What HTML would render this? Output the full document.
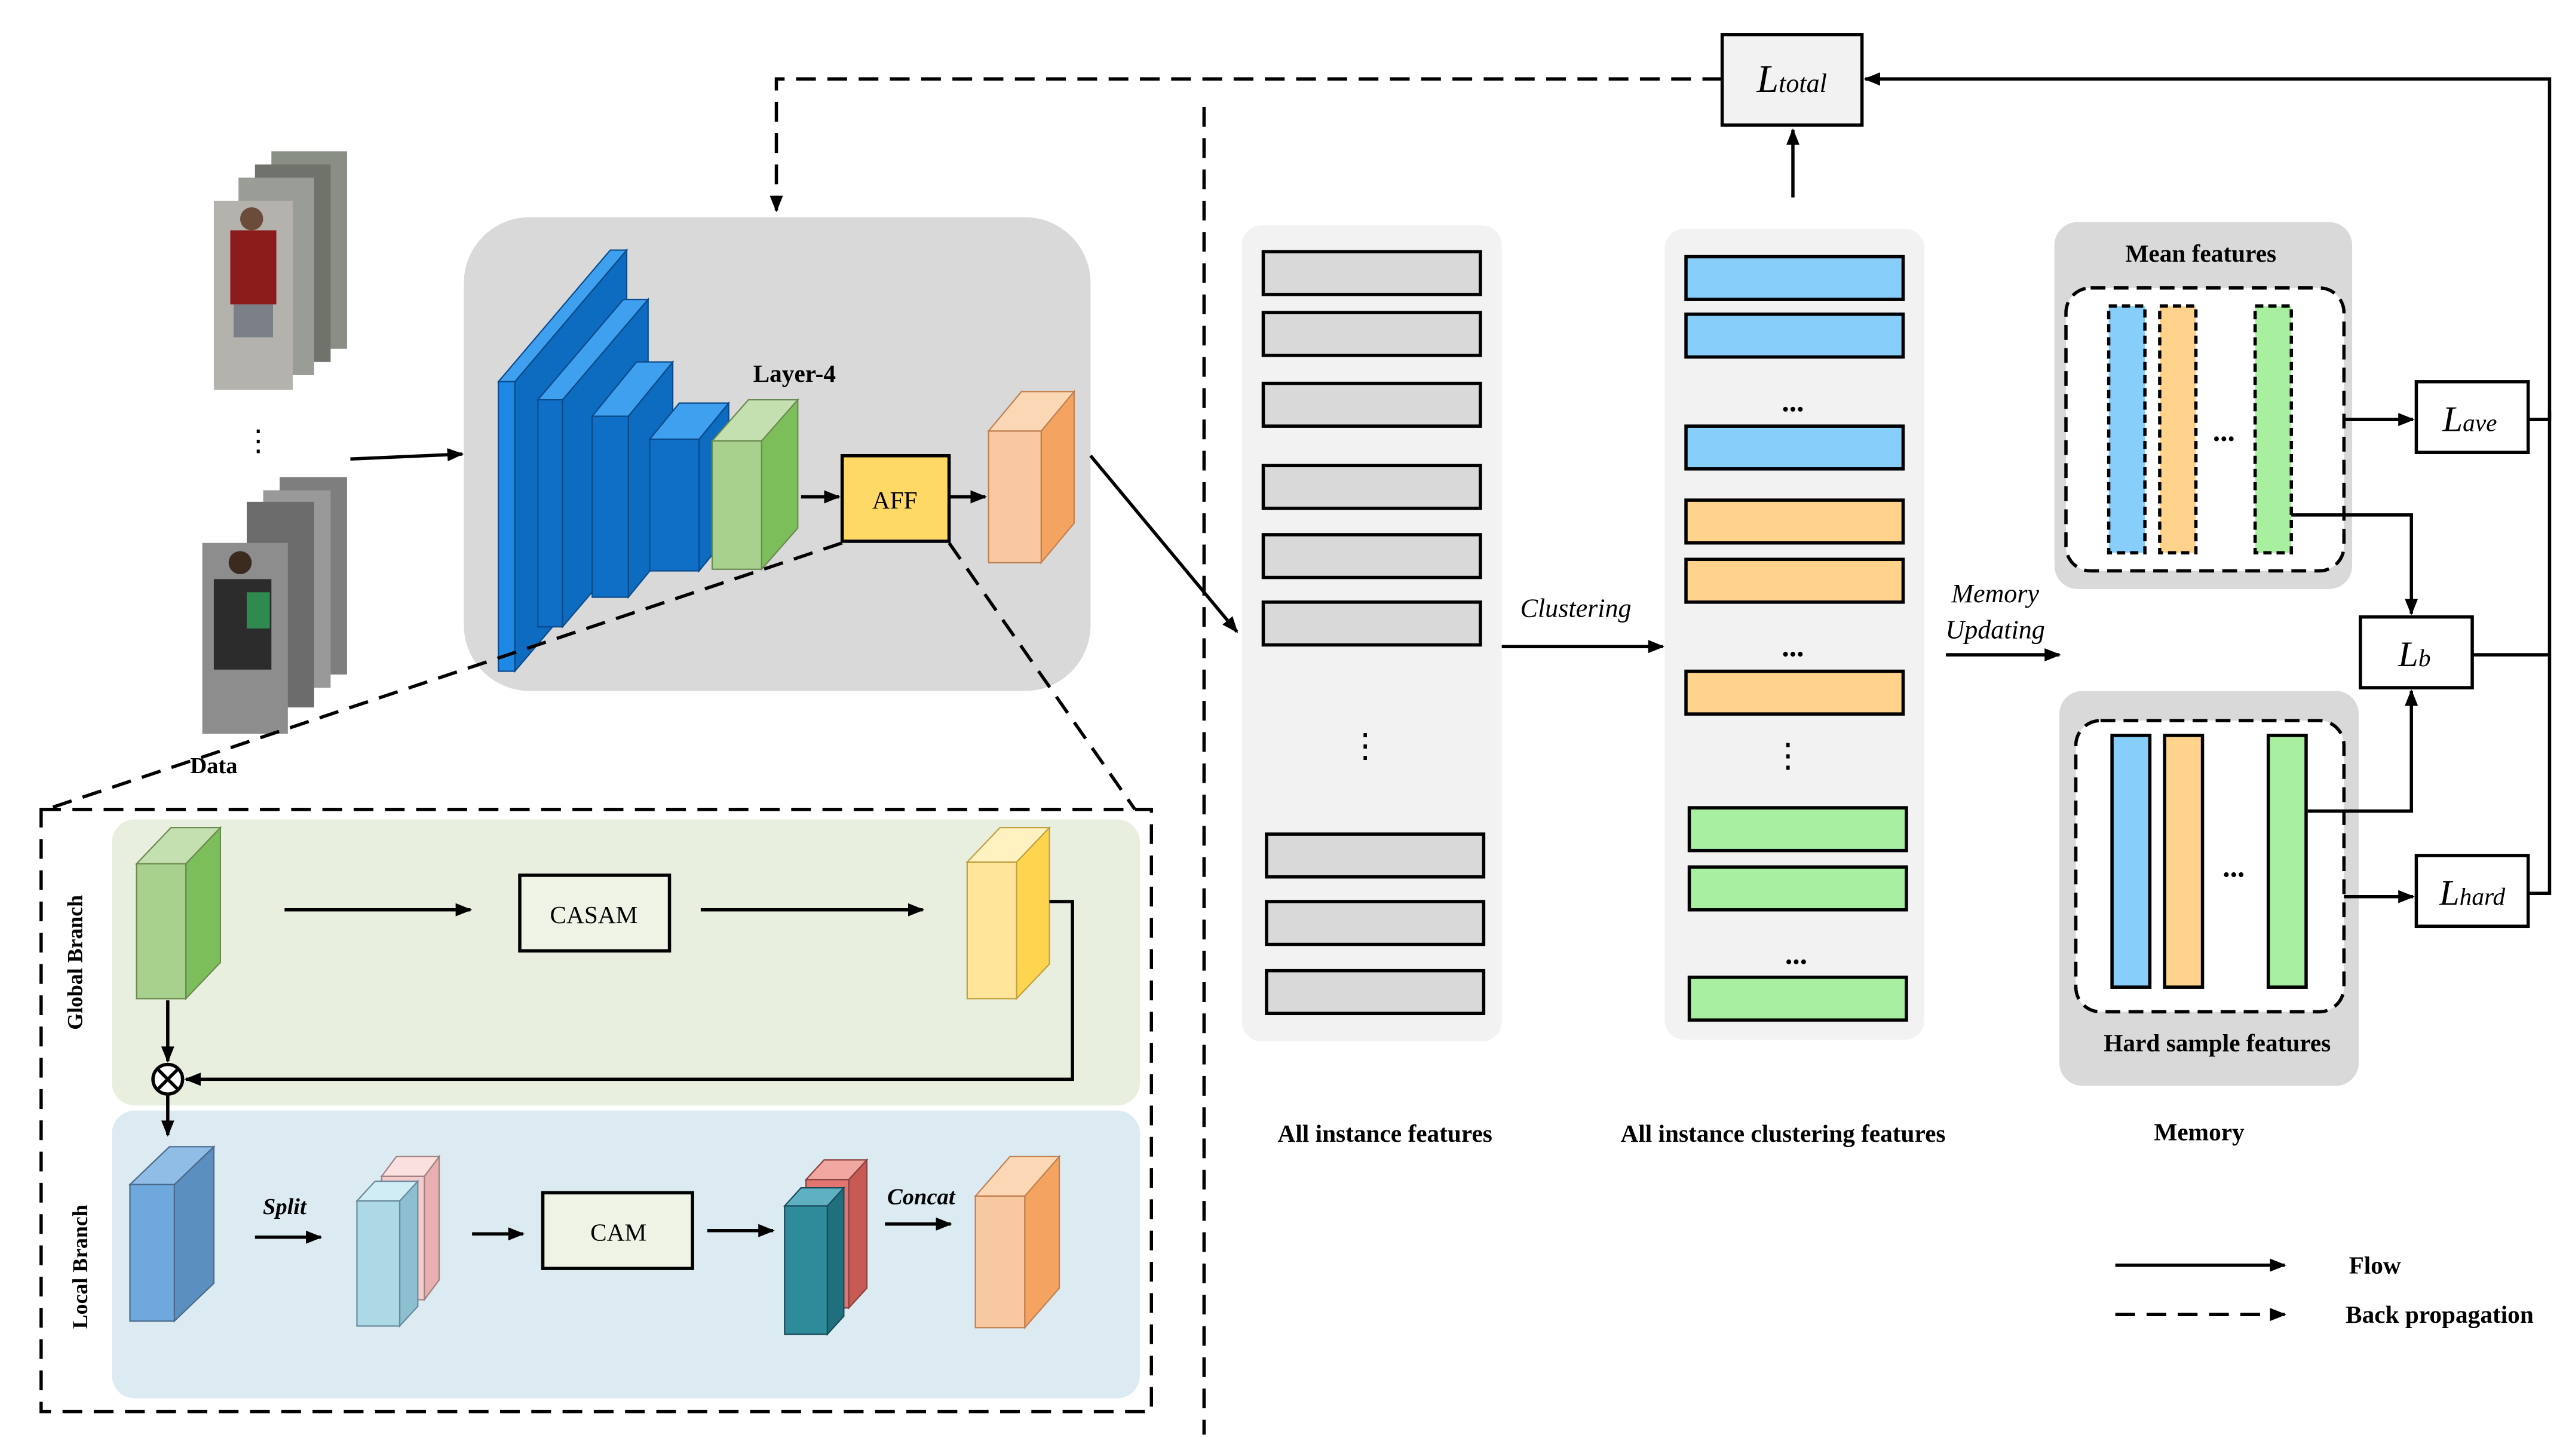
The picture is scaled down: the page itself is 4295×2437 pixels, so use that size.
<!DOCTYPE html>
<html><head><meta charset="utf-8"><style>
html,body{margin:0;padding:0;background:#fff}
svg{display:block}
text{font-family:"Liberation Serif",serif;fill:#000}
.b{font-weight:bold}
</style></head><body>
<svg width="4295" height="2437" viewBox="0 0 1560 885" preserveAspectRatio="none" xmlns="http://www.w3.org/2000/svg">
<defs>
<marker id="ah" markerWidth="10" markerHeight="10" refX="9" refY="5" orient="auto" markerUnits="userSpaceOnUse"><path d="M0,1 L10,5 L0,9 z" fill="#000"/></marker>
</defs>
<rect width="1560" height="885" fill="#fff"/>

<!-- top back-propagation dashed -->
<polyline points="1047,48 472,48 472,128" fill="none" stroke="#000" stroke-width="2" stroke-dasharray="12,7" marker-end="url(#ah)"/>
<line x1="732" y1="65" x2="732" y2="872" stroke="#000" stroke-width="2" stroke-dasharray="12,7"/>

<!-- Ltotal -->
<rect x="1047" y="21" width="85" height="55" fill="#f2f2f2" stroke="#000" stroke-width="2"/>
<text x="1068" y="56" font-size="24" font-style="italic">L<tspan font-size="16" dy="0">total</tspan></text>
<line x1="1090" y1="120" x2="1090" y2="79" stroke="#000" stroke-width="2" marker-end="url(#ah)"/>
<polyline points="1537,255 1550,255 1550,48 1134,48" fill="none" stroke="#000" stroke-width="2" marker-end="url(#ah)"/>
<polyline points="1503,398 1550,398" fill="none" stroke="#000" stroke-width="2"/>
<polyline points="1537,543 1550,543 1550,250" fill="none" stroke="#000" stroke-width="2"/>

<!-- photos -->
<g>
<rect x="165" y="92" width="46" height="120" fill="#8a8f86"/>
<rect x="155" y="100" width="46" height="120" fill="#6f736c"/>
<rect x="145" y="108" width="46" height="120" fill="#9a9d95"/>
<rect x="130" y="122" width="48" height="115" fill="#b4b2ac"/>
<rect x="140" y="140" width="28" height="45" fill="#8b1a1a"/>
<rect x="142" y="185" width="24" height="20" fill="#7a7f88"/>
<circle cx="153" cy="133" r="7" fill="#6b4b3a"/>
<rect x="170" y="290" width="41" height="120" fill="#7e7e7e"/>
<rect x="160" y="298" width="41" height="120" fill="#999"/>
<rect x="150" y="305" width="41" height="125" fill="#6c6c6c"/>
<rect x="123" y="330" width="52" height="116" fill="#8d8d8d"/>
<rect x="130" y="352" width="35" height="55" fill="#2c2c2c"/>
<rect x="150" y="360" width="14" height="22" fill="#2f8a4f"/>
<circle cx="146" cy="342" r="7" fill="#3a2a20"/>
<text x="157" y="274" font-size="18" text-anchor="middle">⋮</text>
</g>
<line x1="213" y1="279" x2="281" y2="276" stroke="#000" stroke-width="2" marker-end="url(#ah)"/>
<text x="130" y="470" font-size="14" class="b" text-anchor="middle">Data</text>

<!-- backbone -->
<rect x="282" y="132" width="381" height="288" rx="40" fill="#d9d9d9"/>
<!-- block helper: front, top, side -->
<g stroke="#0a4a8a" stroke-width="0.8">
<polygon points="313,232 381,152 381,328 313,408" fill="#0d6bc0"/>
<polygon points="303,232 371,152 381,152 313,232" fill="#3fa0f0"/>
<rect x="303" y="232" width="10" height="176" fill="#1e88e5"/>

<polygon points="342,243 394,182 394,320 342,381" fill="#0d6bc0"/>
<polygon points="327,243 379,182 394,182 342,243" fill="#3fa0f0"/>
<rect x="327" y="243" width="15" height="138" fill="#0f6fc6"/>

<polygon points="382,253 409,220 409,330 382,363" fill="#0d6bc0"/>
<polygon points="360,253 387,220 409,220 382,253" fill="#3fa0f0"/>
<rect x="360" y="253" width="22" height="110" fill="#0f6fc6"/>

<polygon points="425,267 443,245 443,325 425,347" fill="#0d6bc0"/>
<polygon points="395,267 413,245 443,245 425,267" fill="#3fa0f0"/>
<rect x="395" y="267" width="30" height="80" fill="#0f6fc6"/>
</g>
<g stroke="#6a8a50" stroke-width="0.8">
<polygon points="463,268 485,243 485,321 463,346" fill="#7cbf5a"/>
<polygon points="433,268 455,243 485,243 463,268" fill="#c5e0b0"/>
<rect x="433" y="268" width="30" height="78" fill="#a9d18e"/>
</g>
<text x="483" y="232" font-size="15" class="b" text-anchor="middle">Layer-4</text>
<line x1="487" y1="302" x2="510" y2="302" stroke="#000" stroke-width="2" marker-end="url(#ah)"/>
<rect x="512" y="277" width="65" height="52" fill="#ffd966" stroke="#000" stroke-width="2"/>
<text x="544" y="309" font-size="15" text-anchor="middle">AFF</text>
<line x1="577" y1="302" x2="599" y2="302" stroke="#000" stroke-width="2" marker-end="url(#ah)"/>
<g stroke="#c08050" stroke-width="0.8">
<polygon points="633,262 653,238 653,318 633,342" fill="#f4a460"/>
<polygon points="601,262 621,238 653,238 633,262" fill="#fbd7b5"/>
<rect x="601" y="262" width="32" height="80" fill="#f8c9a0"/>
</g>
<line x1="663" y1="277" x2="752" y2="384" stroke="#000" stroke-width="2" marker-end="url(#ah)"/>

<!-- zoom dashed lines -->
<line x1="512" y1="330" x2="28" y2="492" stroke="#000" stroke-width="2" stroke-dasharray="12,7"/>
<line x1="577" y1="330" x2="690" y2="492" stroke="#000" stroke-width="2" stroke-dasharray="12,7"/>
<rect x="25" y="492" width="675" height="366" fill="none" stroke="#000" stroke-width="2" stroke-dasharray="12,7"/>

<!-- global branch -->
<rect x="68" y="498" width="625" height="174" rx="14" fill="#e9efdf"/>
<text transform="translate(50,585) rotate(-90)" font-size="13" class="b" text-anchor="middle">Global Branch</text>
<g stroke="#6a8a50" stroke-width="0.8">
<polygon points="113,525 134,503 134,585 113,607" fill="#7cbf5a"/>
<polygon points="83,525 104,503 134,503 113,525" fill="#c5e0b0"/>
<rect x="83" y="525" width="30" height="82" fill="#a9d18e"/>
</g>
<line x1="173" y1="553" x2="286" y2="553" stroke="#000" stroke-width="2" marker-end="url(#ah)"/>
<rect x="316" y="532" width="91" height="46" fill="#eef3e6" stroke="#000" stroke-width="2"/>
<text x="361" y="561" font-size="15" text-anchor="middle">CASAM</text>
<line x1="426" y1="553" x2="561" y2="553" stroke="#000" stroke-width="2" marker-end="url(#ah)"/>
<g stroke="#c0a040" stroke-width="0.8">
<polygon points="618,524 638,503 638,586 618,607" fill="#ffd54f"/>
<polygon points="588,524 608,503 638,503 618,524" fill="#fff2c0"/>
<rect x="588" y="524" width="30" height="83" fill="#ffe599"/>
</g>
<polyline points="638,548 652,548 652,656 113,656" fill="none" stroke="#000" stroke-width="2" marker-end="url(#ah)"/>
<line x1="102" y1="608" x2="102" y2="645" stroke="#000" stroke-width="2" marker-end="url(#ah)"/>
<circle cx="102" cy="656" r="9" fill="#fff" stroke="#000" stroke-width="2"/>
<line x1="96" y1="650" x2="108" y2="662" stroke="#000" stroke-width="2"/>
<line x1="108" y1="650" x2="96" y2="662" stroke="#000" stroke-width="2"/>

<!-- local branch -->
<rect x="68" y="675" width="625" height="175" rx="14" fill="#dcebf1"/>
<line x1="102" y1="666" x2="102" y2="690" stroke="#000" stroke-width="2" marker-end="url(#ah)"/>
<text transform="translate(53,770) rotate(-90)" font-size="13" class="b" text-anchor="middle">Local Branch</text>
<g stroke="#4a6a8a" stroke-width="0.8">
<polygon points="106,720 130,697 130,780 106,803" fill="#5b8fbf"/>
<polygon points="79,720 103,697 130,697 106,720" fill="#8fbde6"/>
<rect x="79" y="720" width="27" height="83" fill="#6fa8dc"/>
</g>
<text x="173" y="738" font-size="14" class="b" font-style="italic" text-anchor="middle">Split</text>
<line x1="155" y1="752" x2="195" y2="752" stroke="#000" stroke-width="2" marker-end="url(#ah)"/>
<g stroke="#a08080" stroke-width="0.8">
<polygon points="258,715 267,703 267,778 258,790" fill="#e8b0b0"/>
<polygon points="232,715 241,703 267,703 258,715" fill="#fbe0e0"/>
<rect x="232" y="715" width="26" height="75" fill="#f4cccc"/>
</g>
<g stroke="#6a8a9a" stroke-width="0.8">
<polygon points="243,730 254,718 254,794 243,806" fill="#8cc0d0"/>
<polygon points="217,730 228,718 254,718 243,730" fill="#d0ecf4"/>
<rect x="217" y="730" width="26" height="76" fill="#add8e6"/>
</g>
<line x1="287" y1="750" x2="318" y2="750" stroke="#000" stroke-width="2" marker-end="url(#ah)"/>
<rect x="330" y="725" width="91" height="46" fill="#eef3e6" stroke="#000" stroke-width="2"/>
<text x="376" y="754" font-size="15" text-anchor="middle">CAM</text>
<line x1="430" y1="748" x2="470" y2="748" stroke="#000" stroke-width="2" marker-end="url(#ah)"/>
<g stroke="#8a4040" stroke-width="0.8">
<polygon points="516,717 527,705 527,783 516,795" fill="#c85a55"/>
<polygon points="490,717 501,705 527,705 516,717" fill="#f0a8a0"/>
<rect x="490" y="717" width="26" height="78" fill="#e0766f"/>
</g>
<g stroke="#1a4a5a" stroke-width="0.8">
<polygon points="503,733 513,722 513,800 503,811" fill="#1f6f7d"/>
<polygon points="477,733 487,722 513,722 503,733" fill="#5fb0c0"/>
<rect x="477" y="733" width="26" height="78" fill="#2e8b9a"/>
</g>
<text x="560" y="732" font-size="14" class="b" font-style="italic" text-anchor="middle">Concat</text>
<line x1="538" y1="744" x2="578" y2="744" stroke="#000" stroke-width="2" marker-end="url(#ah)"/>
<g stroke="#c08050" stroke-width="0.8">
<polygon points="623,727 644,703 644,783 623,807" fill="#f4a460"/>
<polygon points="593,727 614,703 644,703 623,727" fill="#fbd7b5"/>
<rect x="593" y="727" width="30" height="80" fill="#f8c9a0"/>
</g>

<!-- all instance features -->
<rect x="755" y="137" width="158" height="496" rx="12" fill="#f2f2f2"/>
<g fill="#d9d9d9" stroke="#000" stroke-width="2">
<rect x="768" y="153" width="132" height="26"/>
<rect x="768" y="190" width="132" height="26"/>
<rect x="768" y="233" width="132" height="26"/>
<rect x="768" y="283" width="132" height="26"/>
<rect x="768" y="325" width="132" height="26"/>
<rect x="768" y="366" width="132" height="26"/>
<rect x="770" y="507" width="132" height="26"/>
<rect x="770" y="548" width="132" height="26"/>
<rect x="770" y="590" width="132" height="26"/>
</g>
<text x="830" y="460" font-size="20" text-anchor="middle">⋮</text>
<line x1="913" y1="393" x2="1011" y2="393" stroke="#000" stroke-width="2" marker-end="url(#ah)"/>
<text x="958" y="375" font-size="16" font-style="italic" text-anchor="middle">Clustering</text>

<!-- clustering features -->
<rect x="1012" y="139" width="158" height="493" rx="12" fill="#f2f2f2"/>
<g stroke="#000" stroke-width="2">
<rect x="1025" y="156" width="132" height="26" fill="#87cefa"/>
<rect x="1025" y="191" width="132" height="26" fill="#87cefa"/>
<rect x="1025" y="259" width="132" height="26" fill="#87cefa"/>
<rect x="1025" y="304" width="132" height="26" fill="#ffd38c"/>
<rect x="1025" y="340" width="132" height="26" fill="#ffd38c"/>
<rect x="1025" y="408" width="132" height="26" fill="#ffd38c"/>
<rect x="1027" y="491" width="132" height="26" fill="#a8f0a0"/>
<rect x="1027" y="527" width="132" height="26" fill="#a8f0a0"/>
<rect x="1027" y="594" width="132" height="26" fill="#a8f0a0"/>
</g>
<text x="1090" y="250" font-size="18" text-anchor="middle" class="b">...</text>
<text x="1090" y="399" font-size="18" text-anchor="middle" class="b">...</text>
<text x="1087" y="466" font-size="20" text-anchor="middle">⋮</text>
<text x="1092" y="586" font-size="18" text-anchor="middle" class="b">...</text>

<!-- memory updating -->
<text x="1213" y="366" font-size="16" font-style="italic" text-anchor="middle">Memory</text>
<text x="1213" y="388" font-size="16" font-style="italic" text-anchor="middle">Updating</text>
<line x1="1183" y1="398" x2="1252" y2="398" stroke="#000" stroke-width="2" marker-end="url(#ah)"/>

<!-- mean features -->
<rect x="1249" y="135" width="181" height="223" rx="14" fill="#d9d9d9"/>
<text x="1338" y="159" font-size="15" class="b" text-anchor="middle">Mean features</text>
<rect x="1256" y="175" width="169" height="172" rx="15" fill="#fff" stroke="#000" stroke-width="2" stroke-dasharray="9,5"/>
<g stroke="#000" stroke-width="2" stroke-dasharray="5,3">
<rect x="1282" y="186" width="22" height="150" fill="#87cefa"/>
<rect x="1313" y="186" width="22" height="150" fill="#ffd38c"/>
<rect x="1371" y="186" width="22" height="150" fill="#a8f0a0"/>
</g>
<text x="1352" y="268" font-size="18" text-anchor="middle" class="b">...</text>

<!-- hard features -->
<rect x="1252" y="420" width="182" height="240" rx="14" fill="#d9d9d9"/>
<rect x="1262" y="438" width="163" height="177" rx="15" fill="#fff" stroke="#000" stroke-width="2" stroke-dasharray="9,5"/>
<g stroke="#000" stroke-width="2">
<rect x="1284" y="447" width="23" height="153" fill="#87cefa"/>
<rect x="1316" y="447" width="23" height="153" fill="#ffd38c"/>
<rect x="1379" y="447" width="23" height="153" fill="#a8f0a0"/>
</g>
<text x="1358" y="533" font-size="18" text-anchor="middle" class="b">...</text>
<text x="1348" y="639" font-size="15" class="b" text-anchor="middle">Hard sample features</text>

<!-- losses -->
<rect x="1469" y="232" width="68" height="43" fill="#fff" stroke="#000" stroke-width="2"/>
<text x="1485" y="262" font-size="22" font-style="italic">L<tspan font-size="15">ave</tspan></text>
<line x1="1425" y1="255" x2="1467" y2="255" stroke="#000" stroke-width="2" marker-end="url(#ah)"/>
<rect x="1435" y="375" width="68" height="43" fill="#fff" stroke="#000" stroke-width="2"/>
<text x="1458" y="405" font-size="22" font-style="italic">L<tspan font-size="15">b</tspan></text>
<polyline points="1393,313 1466,313 1466,373" fill="none" stroke="#000" stroke-width="2" marker-end="url(#ah)"/>
<polyline points="1403,493 1466,493 1466,420" fill="none" stroke="#000" stroke-width="2" marker-end="url(#ah)"/>
<rect x="1469" y="520" width="68" height="43" fill="#fff" stroke="#000" stroke-width="2"/>
<text x="1483" y="550" font-size="22" font-style="italic">L<tspan font-size="15">hard</tspan></text>
<line x1="1425" y1="545" x2="1467" y2="545" stroke="#000" stroke-width="2" marker-end="url(#ah)"/>

<!-- bottom labels -->
<text x="842" y="694" font-size="15" class="b" text-anchor="middle">All instance features</text>
<text x="1084" y="694" font-size="15" class="b" text-anchor="middle">All instance clustering features</text>
<text x="1337" y="693" font-size="15" class="b" text-anchor="middle">Memory</text>

<!-- legend -->
<line x1="1286" y1="769" x2="1389" y2="769" stroke="#000" stroke-width="2" marker-end="url(#ah)"/>
<text x="1428" y="774" font-size="15" class="b">Flow</text>
<line x1="1286" y1="799" x2="1389" y2="799" stroke="#000" stroke-width="2" stroke-dasharray="12,7" marker-end="url(#ah)"/>
<text x="1426" y="804" font-size="15" class="b">Back propagation</text>
</svg>
</body></html>
